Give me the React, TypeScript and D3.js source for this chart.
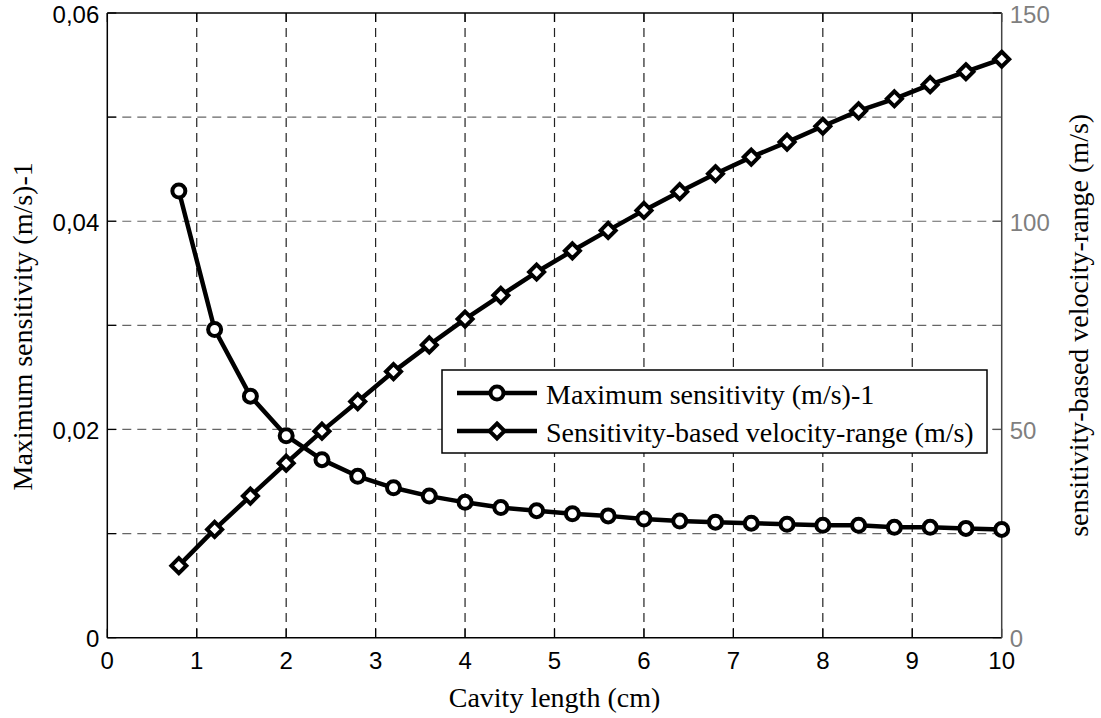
import React from "react";
import * as d3 from "d3";

const cavityLength = [0.8, 1.2, 1.6, 2.0, 2.4, 2.8, 3.2, 3.6, 4.0, 4.4, 4.8, 5.2, 5.6, 6.0, 6.4, 6.8, 7.2, 7.6, 8.0, 8.4, 8.8, 9.2, 9.6, 10.0];
const maxSensitivity = [0.0429, 0.0296, 0.0232, 0.0194, 0.0171, 0.0155, 0.0144, 0.0136, 0.0130, 0.0125, 0.0122, 0.0119, 0.0117, 0.0114, 0.0112, 0.0111, 0.0110, 0.0109, 0.0108, 0.0108, 0.0106, 0.0106, 0.0105, 0.0104];
const velocityRange = [17.3, 26.0, 34.0, 41.9, 49.6, 56.7, 63.9, 70.3, 76.5, 82.2, 87.8, 92.9, 97.8, 102.6, 107.1, 111.4, 115.4, 119.0, 122.8, 126.5, 129.4, 132.8, 135.9, 138.9];

const xTicks = [0, 1, 2, 3, 4, 5, 6, 7, 8, 9, 10];
const leftTicks = [0, 0.02, 0.04, 0.06];
const leftGrid = [0.01, 0.02, 0.03, 0.04, 0.05];
const rightTicks = [0, 50, 100, 150];

const seriesNames = ["Maximum sensitivity (m/s)-1", "Sensitivity-based velocity-range (m/s)"];
const xLabel = "Cavity length (cm)";
const yLeftLabel = "Maximum sensitivity (m/s)-1";
const yRightLabel = "sensitivity-based velocity-range (m/s)";

const W = 1101, H = 718;
const L = 107.3, R = 1001.7, T = 13, B = 637.7;

const locale = d3.formatLocale({ decimal: ",", thousands: ".", grouping: [3], currency: ["", ""] });
const fmtLeft = (v: number) => (v === 0 ? "0" : locale.format(".2f")(v));

export default function App() {
  const x = d3.scaleLinear().domain([0, 10]).range([L, R]);
  const yL = d3.scaleLinear().domain([0, 0.06]).range([B, T]);
  const yR = d3.scaleLinear().domain([0, 150]).range([B, T]);

  const sensPts: [number, number][] = cavityLength.map((c, i) => [x(c), yL(maxSensitivity[i])]);
  const velPts: [number, number][] = cavityLength.map((c, i) => [x(c), yR(velocityRange[i])]);
  const line = d3.line();

  const sans = "'Liberation Sans', Arial, sans-serif";
  const serif = "'Liberation Serif', 'Times New Roman', serif";
  const tickLen = 9;
  const dash = "9,6";

  const diamond = (cx: number, cy: number, s: number) =>
    `M${cx},${cy - s}L${cx + s},${cy}L${cx},${cy + s}L${cx - s},${cy}Z`;

  const legL = 442, legR = 987, legT = 370, legB = 453;
  const row1 = 393, row2 = 431;
  const lx1 = 457, lx2 = 537, lmx = 497;

  return (
    <svg width={W} height={H} style={{ position: "absolute", left: 0, top: 0, background: "#fff" }}>
      <rect x={0} y={0} width={W} height={H} fill="#fff" />
      {/* vertical grid */}
      {xTicks.filter((t) => t > 0 && t < 10).map((t) => (
        <line key={"vg" + t} x1={x(t)} x2={x(t)} y1={T} y2={B} stroke="#222" strokeWidth={1.2} strokeDasharray={dash} />
      ))}
      {/* horizontal grid */}
      {leftGrid.map((t) => (
        <line key={"hg" + t} x1={L} x2={R} y1={yL(t)} y2={yL(t)} stroke="#666" strokeWidth={1.2} strokeDasharray={dash} />
      ))}
      {/* ticks */}
      {xTicks.map((t) => (
        <g key={"xt" + t}>
          <line x1={x(t)} x2={x(t)} y1={B} y2={B - tickLen} stroke="#000" strokeWidth={1.2} />
          <line x1={x(t)} x2={x(t)} y1={T} y2={T + tickLen} stroke="#000" strokeWidth={1.2} />
          <text x={x(t)} y={B + 23} fontFamily={sans} fontSize={24} textAnchor="middle" dominantBaseline="central" fill="#000">{t}</text>
        </g>
      ))}
      {leftGrid.concat([0, 0.06]).map((t) => (
        <line key={"ltk" + t} x1={L} x2={L + tickLen} y1={yL(t)} y2={yL(t)} stroke="#000" strokeWidth={1.2} />
      ))}
      {leftTicks.map((t) => (
        <text key={"lt" + t} x={L - 8} y={yL(t) + 1} fontFamily={sans} fontSize={24} textAnchor="end" dominantBaseline="central" fill="#000">{fmtLeft(t)}</text>
      ))}
      {rightTicks.map((t) => (
        <g key={"rt" + t}>
          <line x1={R} x2={R - tickLen} y1={yR(t)} y2={yR(t)} stroke="#555" strokeWidth={1.2} />
          <text x={R + 8} y={yR(t) + 1} fontFamily={sans} fontSize={24} textAnchor="start" dominantBaseline="central" fill="#7f7f7f">{t}</text>
        </g>
      ))}
      {/* axes box */}
      <line x1={L} x2={R} y1={T} y2={T} stroke="#000" strokeWidth={1.5} />
      <line x1={L} x2={R} y1={B} y2={B} stroke="#000" strokeWidth={1.5} />
      <line x1={L} x2={L} y1={T} y2={B} stroke="#000" strokeWidth={1.5} />
      <line x1={R} x2={R} y1={T} y2={B} stroke="#444" strokeWidth={1.5} />

      {/* series */}
      <path d={line(sensPts) || ""} fill="none" stroke="#000" strokeWidth={4.5} strokeLinejoin="round" />
      <path d={line(velPts) || ""} fill="none" stroke="#000" strokeWidth={4.5} strokeLinejoin="round" />
      {sensPts.map(([px, py], i) => (
        <circle key={"c" + i} cx={px} cy={py} r={6.5} fill="#fff" stroke="#000" strokeWidth={4} />
      ))}
      {velPts.map(([px, py], i) => (
        <path key={"d" + i} d={diamond(px, py, 7.5)} fill="#fff" stroke="#000" strokeWidth={4} strokeLinejoin="miter" />
      ))}

      {/* legend */}
      <rect x={legL} y={legT} width={legR - legL} height={legB - legT} fill="#fff" stroke="#000" strokeWidth={1.5} />
      <line x1={lx1} x2={lx2} y1={row1} y2={row1} stroke="#000" strokeWidth={4.5} />
      <circle cx={lmx} cy={row1} r={6.5} fill="#fff" stroke="#000" strokeWidth={4} />
      <text x={546} y={row1 + 1} fontFamily={serif} fontSize={28} dominantBaseline="central" fill="#000">{seriesNames[0]}</text>
      <line x1={lx1} x2={lx2} y1={row2} y2={row2} stroke="#000" strokeWidth={4.5} />
      <path d={diamond(lmx, row2, 7.5)} fill="#fff" stroke="#000" strokeWidth={4} />
      <text x={546} y={row2 + 1} fontFamily={serif} fontSize={28} dominantBaseline="central" fill="#000">{seriesNames[1]}</text>

      {/* axis labels */}
      <text x={(L + R) / 2} y={697} fontFamily={serif} fontSize={28} textAnchor="middle" dominantBaseline="central" fill="#000">{xLabel}</text>
      <text transform={`translate(22,${(T + B) / 2 + 1}) rotate(-90)`} fontFamily={serif} fontSize={28} textAnchor="middle" dominantBaseline="central" fill="#000">{yLeftLabel}</text>
      <text transform={`translate(1078,${(T + B) / 2}) rotate(-90)`} fontFamily={serif} fontSize={28} textAnchor="middle" dominantBaseline="central" fill="#000">{yRightLabel}</text>
    </svg>
  );
}
